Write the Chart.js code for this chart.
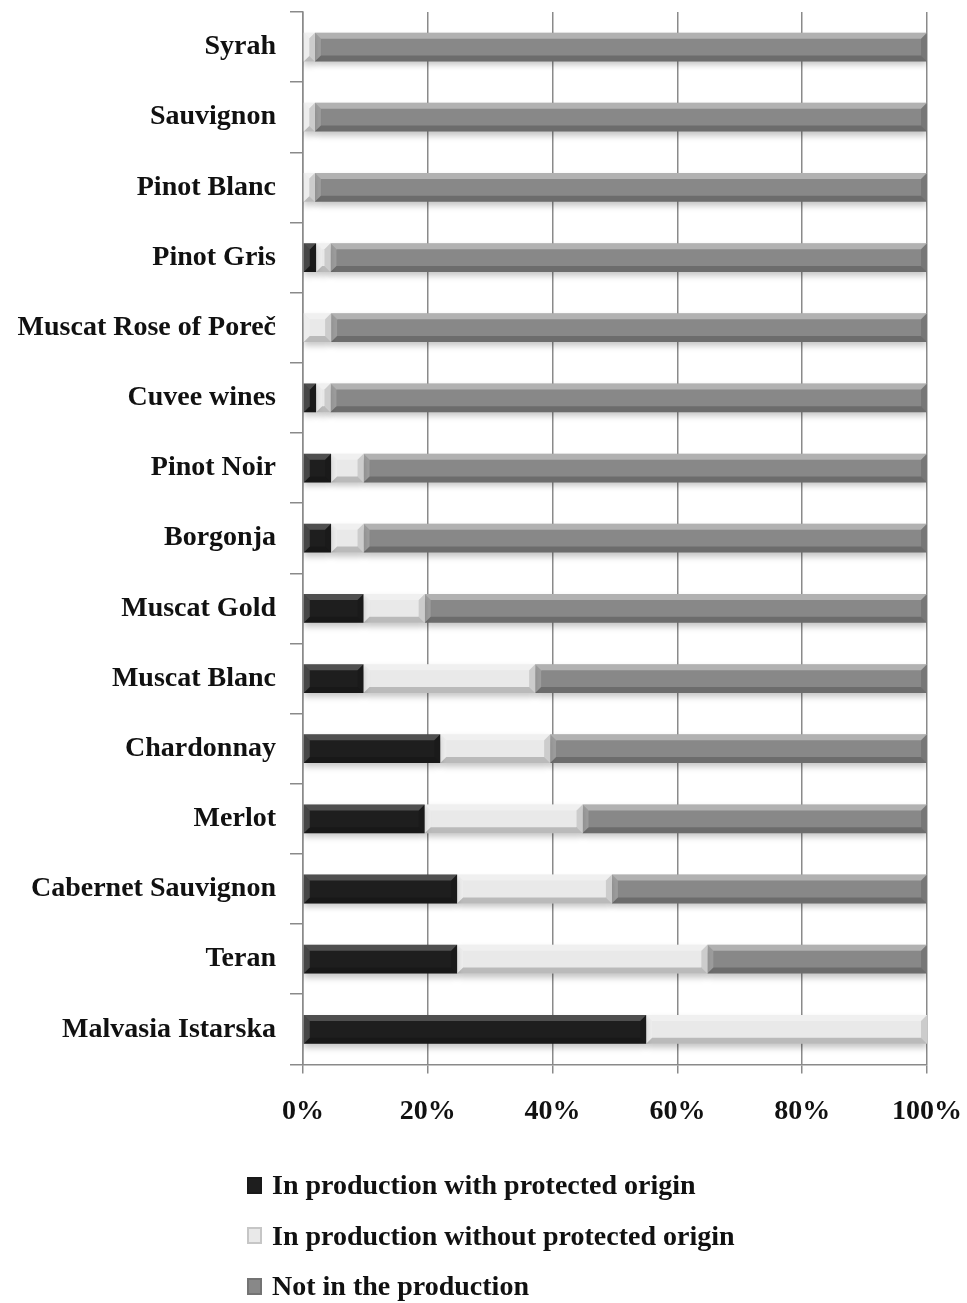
<!DOCTYPE html>
<html>
<head>
<meta charset="utf-8">
<script src="https://cdn.jsdelivr.net/npm/chart.js@4.4.1/dist/chart.umd.min.js"></script>
<style>
  html, body { margin: 0; padding: 0; background: #ffffff; overflow: hidden; }
  #wrap { position: relative; width: 967px; height: 1303px; overflow: hidden; }
  #c { position: absolute; left: 0; top: 0; }
  #legend { position: absolute; left: 247px; top: 1160px; font-family: "Liberation Serif", "Times New Roman", serif; font-weight: bold; font-size: 28px; color: #111; }
  .row { height: 50.5px; display: flex; align-items: center; white-space: nowrap; }
  .sw { width: 15px; height: 17px; margin-right: 10px; box-sizing: border-box; }
</style>
</head>
<body>
<div id="wrap">
  <canvas id="c" width="967" height="1180"></canvas>
  <div id="legend"></div>
</div>
<script>
// ---- data ----
const categories = ["Syrah", "Sauvignon", "Pinot Blanc", "Pinot Gris", "Muscat Rose of Poreč", "Cuvee wines", "Pinot Noir", "Borgonja", "Muscat Gold", "Muscat Blanc", "Chardonnay", "Merlot", "Cabernet Sauvignon", "Teran", "Malvasia Istarska"];
const seriesNames = ["In production with protected origin", "In production without protected origin", "Not in the production"];
const withProtected    = [0, 0, 0, 2.1, 0, 2.1, 4.5, 4.5, 9.7, 9.7, 22.0, 19.5, 24.7, 24.7, 55.0];
const withoutProtected = [1.9, 1.9, 1.9, 2.3, 4.5, 2.3, 5.2, 5.2, 9.8, 27.5, 17.6, 25.3, 24.8, 40.1, 45.0];
const notInProduction  = [98.1, 98.1, 98.1, 95.6, 95.5, 95.6, 90.3, 90.3, 80.5, 62.8, 60.4, 55.2, 50.5, 35.2, 0];
const xTickValues = [0, 20, 40, 60, 80, 100];
const xTickLabels = ["0%", "20%", "40%", "60%", "80%", "100%"];

const colors = ["#1e1e1e", "#e9e9e9", "#888888"];
const FONT = '"Liberation Serif", "Times New Roman", serif';

// bevel effect plugin (styling only; positions come from the bar elements)
const bevel = {
  id: 'bevel',
  beforeDatasetsDraw(chart) {
    const ctx = chart.ctx;
    ctx.save();
    ctx.shadowColor = 'rgba(0,0,0,0.22)';
    ctx.shadowBlur = 6;
    ctx.shadowOffsetY = 4;
  },
  afterDatasetsDraw(chart) {
    const ctx = chart.ctx;
    ctx.restore();
    chart.data.datasets.forEach((ds, di) => {
      const meta = chart.getDatasetMeta(di);
      meta.data.forEach(el => {
        const p = el.getProps(['x', 'y', 'base', 'height'], true);
        const L = Math.min(p.x, p.base), R = Math.max(p.x, p.base);
        const T = p.y - p.height / 2, B = p.y + p.height / 2;
        if (R - L < 0.5) return;
        const b = Math.min(6, (R - L) / 2);
        ctx.save();
        ctx.fillStyle = di === 0 ? 'rgba(255,255,255,0.22)' : 'rgba(255,255,255,0.35)';
        ctx.beginPath(); ctx.moveTo(L, T); ctx.lineTo(R, T); ctx.lineTo(R - b, T + b); ctx.lineTo(L + b, T + b); ctx.closePath(); ctx.fill();
        ctx.fillStyle = 'rgba(255,255,255,0.18)';
        ctx.beginPath(); ctx.moveTo(L, T); ctx.lineTo(L + b, T + b); ctx.lineTo(L + b, B - b); ctx.lineTo(L, B); ctx.closePath(); ctx.fill();
        ctx.fillStyle = 'rgba(0,0,0,0.12)';
        ctx.beginPath(); ctx.moveTo(R, T); ctx.lineTo(R - b, T + b); ctx.lineTo(R - b, B - b); ctx.lineTo(R, B); ctx.closePath(); ctx.fill();
        ctx.fillStyle = 'rgba(0,0,0,0.2)';
        ctx.beginPath(); ctx.moveTo(L, B); ctx.lineTo(R, B); ctx.lineTo(R - b, B - b); ctx.lineTo(L + b, B - b); ctx.closePath(); ctx.fill();
        ctx.restore();
      });
    });
  }
};

const chart = new Chart(document.getElementById('c'), {
  type: 'bar',
  data: {
    labels: categories,
    datasets: [
      { label: seriesNames[0], data: withProtected, backgroundColor: colors[0] },
      { label: seriesNames[1], data: withoutProtected, backgroundColor: colors[1] },
      { label: seriesNames[2], data: notInProduction, backgroundColor: colors[2] }
    ]
  },
  options: {
    indexAxis: 'y',
    responsive: false,
    animation: false,
    devicePixelRatio: 1,
    barPercentage: 0.41,
    categoryPercentage: 1.0,
    layout: { padding: { top: 12, right: 40, bottom: 29, left: 0 } },
    plugins: { legend: { display: false }, tooltip: { enabled: false } },
    scales: {
      x: {
        stacked: true,
        min: 0, max: 100,
        afterBuildTicks: (s) => { s.ticks = xTickValues.map(v => ({ value: v })); },
        afterFit: (s) => { s.paddingRight = 0; s.paddingLeft = 0; },
        ticks: {
          callback: (v) => xTickLabels[xTickValues.indexOf(v)],
          color: '#111',
          font: { family: FONT, size: 28, weight: 'bold' },
          padding: 22,
          maxRotation: 0
        },
        grid: { color: '#8a8a8a', lineWidth: 1.5, tickLength: 9, drawTicks: true },
        border: { color: '#8a8a8a', width: 1.5 }
      },
      y: {
        stacked: true,
        afterFit: (s) => { s.width = 303; s.paddingTop = 0; s.paddingBottom = 0; },
        ticks: {
          color: '#111',
          font: { family: FONT, size: 28, weight: 'bold' },
          padding: 14
        },
        grid: { drawOnChartArea: false, drawTicks: true, tickLength: 13, color: '#8a8a8a', lineWidth: 1.5, offset: true },
        border: { color: '#8a8a8a', width: 1.5 }
      }
    }
  },
  plugins: [bevel]
});

// legend (built from the dataset names and colours)
const lg = document.getElementById('legend');
chart.data.datasets.forEach((ds) => {
  const row = document.createElement('div');
  row.className = 'row';
  const sw = document.createElement('span');
  sw.className = 'sw';
  sw.style.border = '2px solid rgba(0,0,0,0.15)';
  sw.style.backgroundColor = ds.backgroundColor;
  const t = document.createElement('span');
  t.textContent = ds.label;
  row.appendChild(sw); row.appendChild(t);
  lg.appendChild(row);
});
</script>
</body>
</html>
